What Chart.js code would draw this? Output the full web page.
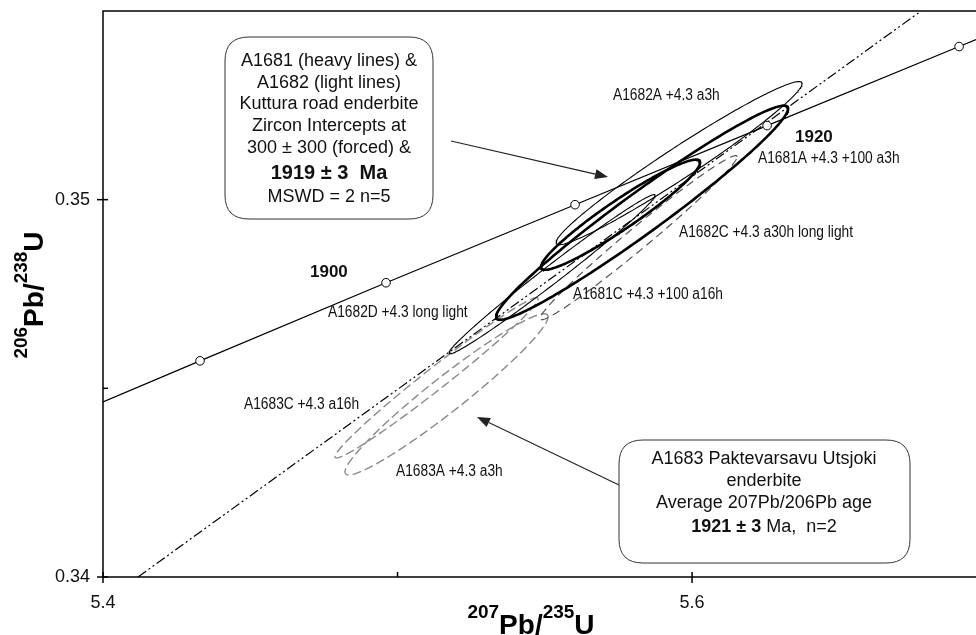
<!DOCTYPE html>
<html>
<head>
<meta charset="utf-8">
<script src="https://cdn.jsdelivr.net/npm/chart.js@4.4.1/dist/chart.umd.min.js"></script>
<style>
  html, body { margin: 0; padding: 0; background: #fff; }
  canvas { display: block; }
</style>
</head>
<body>
<canvas id="myChart" width="976" height="635"></canvas>
<script>
// concordia curve (ages marked with circles)
var concX = [5.4, 5.43294, 5.4961, 5.56027, 5.62547, 5.69066, 5.6964];
var concY = [0.344642, 0.345729, 0.347798, 0.349867, 0.351963, 0.354058, 0.354244];
var concAges = ['', '1890', '1900', '1910', '1920', '1930', ''];

// discordia (dash-dot line)
var discX = [5.41188, 5.67776];
var discY = [0.34, 0.355];

// error ellipses: centre, half extents and correlation
var ellNames = ['A1681A', 'A1681C', 'A1682A', 'A1682D', 'A1682C', 'A1683C', 'A1683A'];
var ellX   = [5.58302, 5.57572, 5.59559, 5.55246, 5.58183, 5.51324, 5.51664];
var ellY   = [0.349655, 0.349602, 0.350968, 0.348024, 0.348992, 0.345279, 0.344841];
var ellSx  = [0.049576, 0.026995, 0.041766, 0.034975, 0.033447, 0.034465, 0.034465];
var ellSy  = [0.002838, 0.001459, 0.002162, 0.002109, 0.002175, 0.002122, 0.002135];
var ellRho = [0.972, 0.948, 0.974, 0.990, 0.9853, 0.985, 0.962];
var ellKind = ['heavy', 'heavy', 'light', 'light', 'dashed', 'grey', 'grey'];

// axis ticks
var xTicks = [5.4, 5.5, 5.6];
var xTickLabels = ['5.4', '', '5.6'];
var yTicks = [0.34, 0.345, 0.35];
var yTickLabels = ['0.34', '', '0.35'];

// labels in the plot
var noteText = ['A1682A +4.3 a3h', 'A1681A +4.3 +100 a3h', 'A1682C +4.3 a30h long light',
  'A1681C +4.3 +100 a16h', 'A1682D +4.3 long light', 'A1683C +4.3 a16h', 'A1683A +4.3 a3h'];
var notePos = [[613, 96], [758, 159], [679, 233], [573, 295], [328, 313], [244, 405], [396, 472]];
var ageText = ['1900', '1920'];
var agePos = [[310, 272], [795, 137]];

var box1Lines = ['A1681 (heavy lines) &', 'A1682 (light lines)', 'Kuttura road enderbite',
  'Zircon Intercepts at', '300 \u00b1 300 (forced) &', '1919 \u00b1 3  Ma', 'MSWD = 2 n=5'];
var box2Lines = ['A1683 Paktevarsavu Utsjoki', 'enderbite', 'Average 207Pb/206Pb age'];

var SANS = '"Liberation Sans", Arial, Helvetica, sans-serif';

var styles = {
  heavy:  { color: '#000', width: 2.6, dash: [] },
  light:  { color: '#000', width: 1.1, dash: [] },
  dashed: { color: '#555', width: 1.2, dash: [8, 5] },
  grey:   { color: '#8a8a8a', width: 1.4, dash: [9, 4] }
};
var orders = { heavy: 1, light: 2, dashed: 3, grey: 4 };

function ellipsePoints(i) {
  var pts = [];
  var k = Math.sqrt(1 - ellRho[i] * ellRho[i]);
  for (var s = 0; s <= 240; s++) {
    var t = s / 240 * Math.PI * 2;
    pts.push({
      x: ellX[i] + ellSx[i] * Math.cos(t),
      y: ellY[i] + ellSy[i] * (ellRho[i] * Math.cos(t) + k * Math.sin(t))
    });
  }
  return pts;
}

var datasets = [];
datasets.push({
  label: 'Concordia',
  data: concX.map(function (x, i) { return { x: x, y: concY[i] }; }),
  showLine: true,
  borderColor: '#000',
  borderWidth: 1.2,
  pointRadius: concAges.map(function (a) { return a ? 4.3 : 0; }),
  pointBackgroundColor: '#fff',
  pointBorderColor: '#000',
  pointBorderWidth: 1,
  order: 0
});
datasets.push({
  label: 'Discordia',
  data: discX.map(function (x, i) { return { x: x, y: discY[i] }; }),
  showLine: true,
  borderColor: '#000',
  borderWidth: 1.2,
  borderDash: [10, 3, 2, 3, 2, 3],
  pointRadius: 0,
  order: 5
});
ellNames.forEach(function (name, i) {
  var st = styles[ellKind[i]];
  datasets.push({
    label: name,
    data: ellipsePoints(i),
    showLine: true,
    borderColor: st.color,
    borderWidth: st.width,
    borderDash: st.dash,
    pointRadius: 0,
    order: orders[ellKind[i]]
  });
});

function roundBox(ctx, x0, y0, x1, y1, r) {
  ctx.beginPath();
  ctx.moveTo(x0 + r, y0);
  ctx.lineTo(x1 - r, y0);
  ctx.quadraticCurveTo(x1, y0, x1, y0 + r);
  ctx.lineTo(x1, y1 - r);
  ctx.quadraticCurveTo(x1, y1, x1 - r, y1);
  ctx.lineTo(x0 + r, y1);
  ctx.quadraticCurveTo(x0, y1, x0, y1 - r);
  ctx.lineTo(x0, y0 + r);
  ctx.quadraticCurveTo(x0, y0, x0 + r, y0);
  ctx.closePath();
  ctx.fillStyle = '#fff';
  ctx.fill();
  ctx.strokeStyle = '#333';
  ctx.lineWidth = 1;
  ctx.stroke();
}

function arrow(ctx, x0, y0, x1, y1) {
  var ang = Math.atan2(y1 - y0, x1 - x0);
  var L = 13, W = 5;
  ctx.strokeStyle = '#222';
  ctx.lineWidth = 1.1;
  ctx.beginPath();
  ctx.moveTo(x0, y0);
  ctx.lineTo(x1 - L * Math.cos(ang), y1 - L * Math.sin(ang));
  ctx.stroke();
  ctx.fillStyle = '#222';
  ctx.beginPath();
  ctx.moveTo(x1, y1);
  ctx.lineTo(x1 - L * Math.cos(ang) + W * Math.sin(ang), y1 - L * Math.sin(ang) - W * Math.cos(ang));
  ctx.lineTo(x1 - L * Math.cos(ang) - W * Math.sin(ang), y1 - L * Math.sin(ang) + W * Math.cos(ang));
  ctx.closePath();
  ctx.fill();
}

// draws runs of text with superscripts / bold, centred on x
function richText(ctx, parts, x, y) {
  var w = 0;
  parts.forEach(function (p) { ctx.font = p.font; p.w = ctx.measureText(p.t).width; w += p.w; });
  var cx = x - w / 2;
  parts.forEach(function (p) {
    ctx.font = p.font;
    ctx.textAlign = 'left';
    ctx.fillText(p.t, cx, y + (p.dy || 0));
    cx += p.w;
  });
}

// condensed label (the original uses a narrow face)
function narrowText(ctx, t, x, y) {
  ctx.save();
  ctx.translate(x, y);
  ctx.scale(0.86, 1);
  ctx.fillText(t, 0, 0);
  ctx.restore();
}

var decorPlugin = {
  id: 'decor',
  afterDraw: function (chart) {
    var ctx = chart.ctx, a = chart.chartArea;
    var xs = chart.scales.x, ys = chart.scales.y;
    ctx.save();

    // frame
    ctx.strokeStyle = '#000';
    ctx.lineWidth = 1.5;
    ctx.setLineDash([]);
    ctx.beginPath();
    ctx.moveTo(a.right, a.top);
    ctx.lineTo(a.left, a.top);
    ctx.lineTo(a.left, a.bottom);
    ctx.lineTo(a.right, a.bottom);
    ctx.stroke();

    // ticks + labels
    ctx.fillStyle = '#111';
    ctx.font = '18px ' + SANS;
    ctx.textBaseline = 'middle';
    xTicks.forEach(function (v, i) {
      var p = xs.getPixelForValue(v);
      ctx.beginPath();
      ctx.moveTo(p, a.bottom - 5);
      ctx.lineTo(p, a.bottom + (xTickLabels[i] ? 6 : 0));
      ctx.stroke();
      if (xTickLabels[i]) {
        ctx.textAlign = 'center';
        ctx.fillText(xTickLabels[i], p, a.bottom + 26);
      }
    });
    yTicks.forEach(function (v, i) {
      var p = ys.getPixelForValue(v);
      ctx.beginPath();
      ctx.moveTo(a.left - (yTickLabels[i] ? 6 : 0), p);
      ctx.lineTo(a.left + 5, p);
      ctx.stroke();
      if (yTickLabels[i]) {
        ctx.textAlign = 'right';
        ctx.fillText(yTickLabels[i], a.left - 13, p);
      }
    });

    // axis titles
    ctx.fillStyle = '#000';
    ctx.textBaseline = 'alphabetic';
    var big = 'bold 28px ' + SANS, sup = 'bold 19px ' + SANS;
    richText(ctx, [
      { t: '207', font: sup, dy: -16 }, { t: 'Pb/', font: big },
      { t: '235', font: sup, dy: -16 }, { t: 'U', font: big }
    ], 531, 634);
    ctx.save();
    ctx.translate(43, 295);
    ctx.rotate(-Math.PI / 2);
    richText(ctx, [
      { t: '206', font: sup, dy: -16 }, { t: 'Pb/', font: big },
      { t: '238', font: sup, dy: -16 }, { t: 'U', font: big }
    ], 0, 0);
    ctx.restore();

    // notes
    ctx.textBaseline = 'middle';
    ctx.textAlign = 'left';
    ctx.fillStyle = '#111';
    ctx.font = '16px ' + SANS;
    noteText.forEach(function (t, i) { narrowText(ctx, t, notePos[i][0], notePos[i][1]); });
    ctx.font = 'bold 17px ' + SANS;
    ageText.forEach(function (t, i) { ctx.fillText(t, agePos[i][0], agePos[i][1]); });

    // arrows
    arrow(ctx, 451, 141, 608, 177);
    arrow(ctx, 619, 485, 477, 417);

    // box 1
    roundBox(ctx, 225, 37, 433, 219, 24);
    ctx.fillStyle = '#111';
    ctx.textAlign = 'center';
    var b1y = [61, 83, 104, 126, 148, 173, 197];
    box1Lines.forEach(function (t, i) {
      ctx.font = (i === 5 ? 'bold 20px ' : '18px ') + SANS;
      ctx.fillText(t, 329, b1y[i]);
    });

    // box 2
    roundBox(ctx, 619, 440, 910, 563, 24);
    ctx.fillStyle = '#111';
    var b2y = [459, 481, 503];
    box2Lines.forEach(function (t, i) {
      ctx.font = '18px ' + SANS;
      ctx.textAlign = 'center';
      ctx.fillText(t, 764, b2y[i]);
    });
    richText(ctx, [
      { t: '1921 \u00b1 3', font: 'bold 18px ' + SANS },
      { t: ' Ma,  n=2', font: '18px ' + SANS }
    ], 764, 527);

    ctx.restore();
  }
};

var ctx = document.getElementById('myChart');
var myChart = new Chart(ctx, {
  type: 'scatter',
  data: { datasets: datasets },
  options: {
    responsive: false,
    animation: false,
    devicePixelRatio: 1,
    layout: { padding: { left: 103, right: 0, top: 11, bottom: 58 } },
    plugins: { legend: { display: false }, tooltip: { enabled: false } },
    scales: {
      x: { type: 'linear', min: 5.4, max: 5.6964, display: false },
      y: { type: 'linear', min: 0.34, max: 0.355, display: false }
    }
  },
  plugins: [decorPlugin]
});
</script>
</body>
</html>
